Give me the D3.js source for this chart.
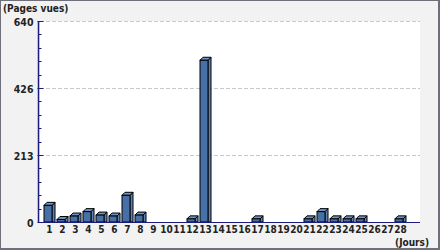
<!DOCTYPE html>
<html>
<head>
<meta charset="utf-8">
<script src="https://cdn.jsdelivr.net/npm/d3@7"></script>
<style>
  body { margin: 0; background: #fff; }
  text { font-family: "DejaVu Sans Condensed", "DejaVu Sans", sans-serif; font-stretch: condensed; font-weight: bold; fill: #222; }
</style>
</head>
<body>
<svg id="chart" width="440" height="250"></svg>
<script>
// Data
var days = d3.range(1, 29).map(String);
var views = [53, 8, 19, 33, 22, 19, 85, 22, 0, 0, 0, 10, 515, 0, 0, 0, 10, 0, 0, 0, 10, 33, 10, 10, 10, 0, 0, 10];
var yTicks = [0, 213, 426, 640];
var yMax = 640;

var svg = d3.select('#chart');
var W = 440, H = 250;
var plotL = 40, plotR = 420, plotT = 21, plotB = 222;
var depth = 3;
var axisColor = '#1c1c7c';

// frame
svg.append('rect').attr('width', W).attr('height', H).attr('fill', '#6f6f7b');
svg.append('rect').attr('x', 1).attr('y', 1).attr('width', W - 3).attr('height', H - 3).attr('fill', '#f2f2f2');
svg.append('rect').attr('x', plotL).attr('y', plotT).attr('width', plotR - plotL).attr('height', plotB - plotT).attr('fill', '#fff');

var x = d3.scaleBand().domain(days).range([plotL, plotL + 367])
    .paddingInner(5 / 13).paddingOuter(4 / 13);
var y = d3.scaleLinear().domain([0, yMax]).range([plotB, plotT]);

// grid lines
svg.append('g').selectAll('line').data(yTicks.slice(1)).join('line')
    .attr('x1', plotL).attr('x2', plotR)
    .attr('y1', d => Math.round(y(d)) + 0.5).attr('y2', d => Math.round(y(d)) + 0.5)
    .attr('stroke', '#c8c8c8').attr('stroke-dasharray', '4,2');

// bars (fake 3D)
var bars = svg.append('g').selectAll('g').data(days.map((d, i) => ({day: d, v: views[i]})).filter(d => d.v > 0)).join('g');
var bw = x.bandwidth();
bars.append('path')
    .attr('d', d => { var x0 = x(d.day) + bw, y0 = y(d.v); return `M${x0},${y0}L${x0 + depth},${y0 - depth}L${x0 + depth},${plotB}L${x0},${plotB}Z`; })
    .attr('fill', '#5c83b8').attr('stroke', '#000').attr('stroke-width', 1);
bars.append('path')
    .attr('d', d => { var x0 = x(d.day), y0 = y(d.v); return `M${x0},${y0}L${x0 + depth},${y0 - depth}L${x0 + bw + depth},${y0 - depth}L${x0 + bw},${y0}Z`; })
    .attr('fill', '#7094c6').attr('stroke', '#000').attr('stroke-width', 1);
bars.append('rect')
    .attr('x', d => x(d.day)).attr('y', d => y(d.v))
    .attr('width', bw).attr('height', d => plotB - y(d.v))
    .attr('fill', '#4670a6').attr('stroke', '#000').attr('stroke-width', 1);

// y axis
var yMinor = d3.range(0, 16).map(i => i * yMax / 15);
var yAxis = svg.append('g').attr('transform', `translate(${plotL - 1.5},0)`);
yAxis.append('line').attr('x1', 0).attr('x2', 0).attr('y1', plotT).attr('y2', plotB + 0.5).attr('stroke', axisColor).attr('stroke-width', 1.5);
yAxis.selectAll('.minor').data(yMinor).join('line').attr('class', 'minor')
    .attr('x1', 0).attr('x2', 3).attr('y1', d => Math.round(y(d)) + 0.5).attr('y2', d => Math.round(y(d)) + 0.5)
    .attr('stroke', axisColor);
yAxis.selectAll('.major').data(yTicks).join('line').attr('class', 'major')
    .attr('x1', -1).attr('x2', 5).attr('y1', d => Math.round(y(d)) + 0.5).attr('y2', d => Math.round(y(d)) + 0.5)
    .attr('stroke', axisColor);
yAxis.selectAll('text').data(yTicks).join('text')
    .attr('x', -5).attr('y', d => y(d) + 1).attr('dy', '0.35em')
    .attr('text-anchor', 'end').attr('font-size', 10.5).text(d => d);

// x axis
svg.append('line').attr('x1', plotL).attr('x2', plotR).attr('y1', plotB + 0.5).attr('y2', plotB + 0.5).attr('stroke', axisColor);
svg.append('g').selectAll('text').data(days).join('text')
    .attr('x', d => x(d) + bw / 2 + 1.5).attr('y', plotB + 7.5).attr('dy', '0.35em')
    .attr('text-anchor', 'middle').attr('font-size', 10).text(d => d);

// axis titles
svg.append('text').attr('x', 3).attr('y', 12).attr('font-size', 10).text('(Pages vues)');
svg.append('text').attr('x', 429).attr('y', 246).attr('text-anchor', 'end').attr('font-size', 10).text('(Jours)');
</script>
</body>
</html>
